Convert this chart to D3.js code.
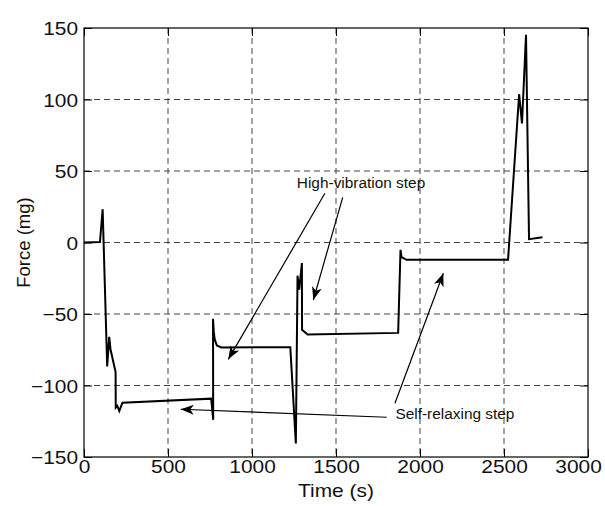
<!DOCTYPE html>
<html>
<head>
<meta charset="utf-8">
<script src="https://cdn.jsdelivr.net/npm/d3@7"></script>
<style>
  html, body { margin: 0; padding: 0; background: #fff; }
  svg { display: block; font-family: "Liberation Sans", Arial, Helvetica, sans-serif; }
</style>
</head>
<body>
<div id="chart"></div>
<script>
// ---- data ----
const timeS = [0, 95, 111, 138, 150, 158, 188, 189, 198, 210, 229, 757, 769, 768, 772, 778, 791, 817, 1228, 1261, 1271, 1281, 1297, 1298, 1331, 1870, 1884, 1890, 1920, 1959, 2524, 2590, 2607, 2631, 2649, 2729];
const forceMg = [0, 0.3, 23.3, -86.7, -66, -74.8, -90.6, -115.5, -114.3, -117.8, -112, -109.2, -124, -53.4, -62, -67.8, -72, -73.4, -73.2, -140.6, -23.2, -33, -14.4, -61, -64.4, -63.2, -5.1, -10.2, -12.1, -12.1, -12.1, 103.7, 83.2, 145.3, 2.3, 3.7];
const xTicks = [0, 500, 1000, 1500, 2000, 2500, 3000];
const yTicks = [-150, -100, -50, 0, 50, 100, 150];
const xLabel = "Time (s)";
const yLabel = "Force (mg)";
// annotations (in data units)
const annotationTexts = ["High-vibration step", "Self-relaxing step"];
const annotationAnchors = [[1649, 41.6], [2208, -119.9]];
const arrowTails = [[1434, 34.4], [1540, 31.6], [1802, -122.2], [1851, -112.4]];
const arrowHeads = [[859, -81.7], [1365, -40.2], [576, -116.6], [2139, -21.5]];

// ---- layout ----
const W = 605, H = 506;
const m = { left: 84, top: 28, right: 605 - 588, bottom: 506 - 457 };
const iw = W - m.left - m.right, ih = H - m.top - m.bottom;
const stretch = 1.13; // horizontal stretch seen in the reference's text

function widen(sel, k) {
  sel.each(function () {
    const len = this.getComputedTextLength();
    d3.select(this).attr("textLength", len * k).attr("lengthAdjust", "spacingAndGlyphs");
  });
}

const svg = d3.select("#chart").append("svg").attr("width", W).attr("height", H);
const defs = svg.append("defs");
defs.append("marker")
  .attr("id", "ah").attr("markerUnits", "userSpaceOnUse")
  .attr("viewBox", "-14 -6 16 12").attr("refX", 0).attr("refY", 0)
  .attr("markerWidth", 16).attr("markerHeight", 12).attr("orient", "auto")
  .append("path").attr("d", "M0,0 L-13,-5 L-9.5,0 L-13,5 Z").attr("fill", "#000");

const g = svg.append("g").attr("transform", `translate(${m.left},${m.top})`);
const x = d3.scaleLinear().domain([0, 3000]).range([0, iw]);
const y = d3.scaleLinear().domain([-150, 150]).range([ih, 0]);

// grid
g.append("g").selectAll("line").data(xTicks.slice(1, -1)).join("line")
  .attr("x1", d => x(d)).attr("x2", d => x(d)).attr("y1", 0).attr("y2", ih)
  .attr("stroke", "#444").attr("stroke-width", 1).attr("stroke-dasharray", "6,4");
g.append("g").selectAll("line").data(yTicks.slice(1, -1)).join("line")
  .attr("y1", d => y(d)).attr("y2", d => y(d)).attr("x1", 0).attr("x2", iw)
  .attr("stroke", "#444").attr("stroke-width", 1).attr("stroke-dasharray", "6,4");

// axes with inward ticks
const tl = 8;
const fs = "18.5px";
const xAxisB = g.append("g").attr("transform", `translate(0,${ih})`)
  .call(d3.axisBottom(x).tickValues(xTicks).tickSizeInner(-tl).tickSizeOuter(0).tickPadding(3).tickFormat(d3.format("d")));
const xAxisT = g.append("g")
  .call(d3.axisTop(x).tickValues(xTicks).tickSizeInner(-tl).tickSizeOuter(0).tickFormat(""));
const yAxisL = g.append("g")
  .call(d3.axisLeft(y).tickValues(yTicks).tickSizeInner(-tl).tickSizeOuter(0).tickPadding(6).tickFormat(d3.format("d")));
const yAxisR = g.append("g").attr("transform", `translate(${iw},0)`)
  .call(d3.axisRight(y).tickValues(yTicks).tickSizeInner(-tl).tickSizeOuter(0).tickFormat(""));
[xAxisB, xAxisT, yAxisL, yAxisR].forEach(a => {
  a.select(".domain").remove();
  a.selectAll(".tick line").attr("stroke", "#000");
  a.selectAll("text").attr("fill", "#111").style("font-size", fs)
    .style("font-family", "'Liberation Sans', Arial, sans-serif");
});
yAxisL.selectAll(".tick text").attr("dy", "0.36em");
widen(xAxisB.selectAll(".tick text"), stretch);
widen(yAxisL.selectAll(".tick text"), stretch);
xAxisB.selectAll(".tick text").filter(d => d === 3000).attr("dx", -10);

// frame
g.append("rect").attr("x", 0).attr("y", 0).attr("width", iw).attr("height", ih)
  .attr("fill", "none").attr("stroke", "#000").attr("stroke-width", 1.2);

// data line
const pts = timeS.map((t, i) => [t, forceMg[i]]);
g.append("path").datum(pts)
  .attr("d", d3.line().x(d => x(d[0])).y(d => y(d[1])))
  .attr("fill", "none").attr("stroke", "#000").attr("stroke-width", 2).attr("stroke-linejoin", "miter");

// annotations
g.selectAll(".arrow").data(arrowTails).join("line").attr("class", "arrow")
  .attr("x1", d => x(d[0])).attr("y1", d => y(d[1]))
  .attr("x2", (d, i) => x(arrowHeads[i][0])).attr("y2", (d, i) => y(arrowHeads[i][1]))
  .attr("stroke", "#000").attr("stroke-width", 1.2).attr("marker-end", "url(#ah)");
const ann = g.selectAll(".ann").data(annotationTexts).join("text").attr("class", "ann")
  .attr("x", (d, i) => x(annotationAnchors[i][0])).attr("y", (d, i) => y(annotationAnchors[i][1]))
  .attr("text-anchor", "middle").attr("dy", "0.35em")
  .style("font-size", "14px").attr("fill", "#111").text(d => d);
widen(ann, 1.1);

// axis labels
const xl = svg.append("text").attr("x", m.left + iw / 2).attr("y", 497)
  .attr("text-anchor", "middle").style("font-size", fs).attr("fill", "#111").text(xLabel);
widen(xl, stretch);
svg.append("text").attr("transform", `translate(30,${m.top + ih / 2}) rotate(-90)`)
  .attr("text-anchor", "middle").style("font-size", fs).attr("fill", "#111").text(yLabel);
</script>
</body>
</html>
